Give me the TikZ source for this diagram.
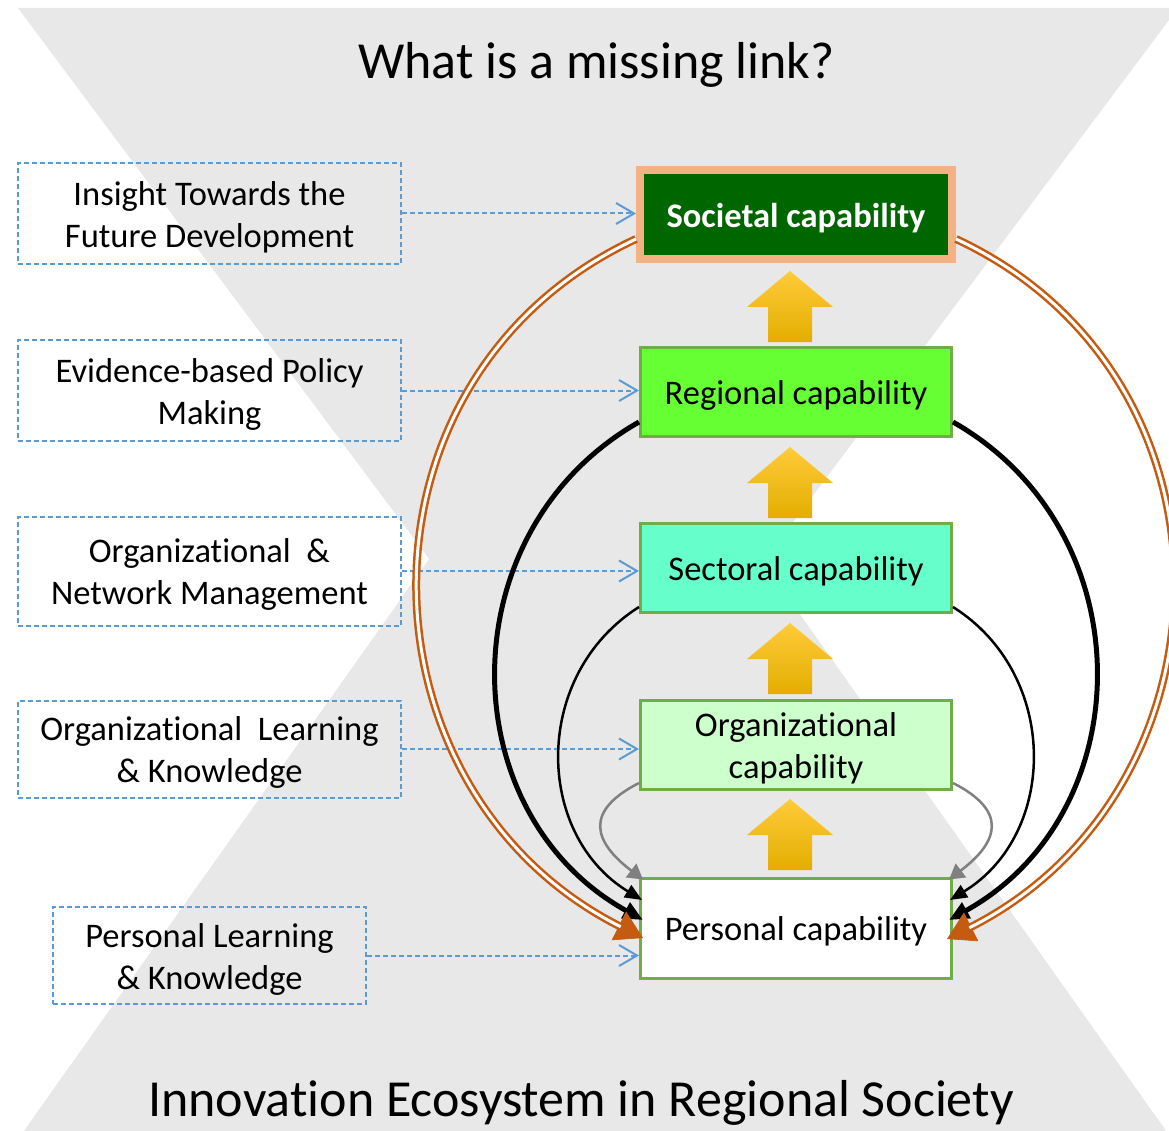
\documentclass[tikz,border=0pt]{standalone}
\usepackage{fontspec}
\setmainfont{Carlito}[Ligatures=CommonOff]
\usetikzlibrary{arrows.meta,calc}
\definecolor{bgray}{HTML}{E8E8E8}
\definecolor{peach}{HTML}{F4B183}
\definecolor{dkgreen}{HTML}{006600}
\definecolor{boxgreen}{HTML}{70AD47}
\definecolor{regfill}{HTML}{66FF33}
\definecolor{secfill}{HTML}{66FFCC}
\definecolor{orgfill}{HTML}{CCFFCC}
\definecolor{dblue}{HTML}{5B9BD5}
\definecolor{oline}{HTML}{C55A11}
\definecolor{connGray}{HTML}{808080}
\definecolor{yTop}{HTML}{FFCB3A}
\definecolor{yMid}{HTML}{FFC000}
\definecolor{yBot}{HTML}{E3AE00}
\newcommand\lowstrut{\rule{0pt}{31.5pt}}
\begin{document}
\begin{tikzpicture}[x=1pt,y=-1pt,
  capbox/.style={draw=boxgreen, line width=3pt, minimum width=311pt, minimum height=89pt, inner sep=0pt, align=center, font=\fontsize{34.5}{42}\selectfont},
  lbox/.style={draw=dblue, line width=2pt, dash pattern=on 5pt off 3pt, inner sep=0pt, align=center, font=\fontsize{34.5}{42}\selectfont},
  dconn/.style={draw=dblue, line width=2pt, dash pattern=on 5pt off 3pt, -{Straight Barb[length=18pt,width=21pt]}},
  yarrow/.style={top color=yTop, middle color=yMid, bottom color=yBot, draw=none},
  ttl/.style={font=\fontsize{52}{60}\selectfont, anchor=base, inner sep=0pt},
  grayconn/.style={draw=connGray, line width=2.5pt, -{Triangle[length=15pt,width=17pt]}},
  thinconn/.style={draw=black, line width=2.5pt, -{Triangle[length=17pt,width=14pt]}},
  thickconn/.style={draw=black, line width=5pt, -{Triangle[length=20pt,width=17pt]}},
  ocore/.style={draw=oline, line width=0.6pt, -{Triangle[length=27pt,width=32pt]}},
  odouble/.style={draw=oline, line width=2.5pt, double=white, double distance=3pt, shorten >=25pt},
]
\useasboundingbox (0,0) rectangle (1169,1131);
\clip (0,0) rectangle (1169,1131);
% background hourglass
\fill[bgray] (18,8) -- (1178,8) -- (597,784) -- cycle;
\fill[bgray] (21,1135) -- (1169,1135) -- (595,325) -- cycle;

% titles
\node[ttl] (t1) at (596.5,79) {What is a missing link?};
\node[ttl] (t2) at (581,1116) {Innovation Ecosystem in Regional Society};

% capability boxes
\node[capbox, draw=peach, line width=8pt, fill=dkgreen, text=white, minimum width=312pt, font=\bfseries\fontsize{34.5}{42}\selectfont] (soc) at (796,214.5) {\lowstrut Societal capability};
\node[capbox, fill=regfill] (reg) at (796,392) {\lowstrut Regional capability};
\node[capbox, fill=secfill] (sec) at (796,568) {\lowstrut Sectoral capability};
\node[capbox, fill=orgfill] (org) at (796,745) {\lowstrut Organizational\\capability};
\node[capbox, fill=white, minimum height=100pt] (pers) at (796,928) {\lowstrut Personal capability};

% left dashed boxes
\node[lbox, minimum width=383pt, minimum height=101pt] (l1) at (209.5,213.5) {\lowstrut Insight Towards the\\Future Development};
\node[lbox, minimum width=383pt, minimum height=101pt] (l2) at (209.5,390.5) {\lowstrut Evidence-based Policy\\Making};
\node[lbox, minimum width=383pt, minimum height=109pt] (l3) at (209.5,571) {\lowstrut Organizational\ \ \&\\Network Management};
\node[lbox, minimum width=383pt, minimum height=97pt] (l4) at (209.5,749) {\lowstrut Organizational\ \ Learning\\\& Knowledge};
\node[lbox, minimum width=313pt, minimum height=97pt] (l5) at (209.5,955.5) {\lowstrut Personal Learning\\\& Knowledge};

% yellow block arrows
\path[yarrow] ($(soc.south)+(-6,8)$) -- ++(43,36) -- ++(-21,0) -- ++(0,35) -- ++(-44,0) -- ++(0,-35) -- ++(-21,0) -- cycle;
\path[yarrow] ($(reg.south)+(-6,9)$) -- ++(43,36) -- ++(-21,0) -- ++(0,35) -- ++(-44,0) -- ++(0,-35) -- ++(-21,0) -- cycle;
\path[yarrow] ($(sec.south)+(-6,9)$) -- ++(43,36) -- ++(-21,0) -- ++(0,35) -- ++(-44,0) -- ++(0,-35) -- ++(-21,0) -- cycle;
\path[yarrow] ($(org.south)+(-6,8)$) -- ++(43,36) -- ++(-21,0) -- ++(0,35) -- ++(-44,0) -- ++(0,-35) -- ++(-21,0) -- cycle;

% dashed connectors
\draw[dconn] (l1.east) -- (l1.east -| soc.west);
\draw[dconn] (l2.east) -- (l2.east -| reg.west);
\draw[dconn] (l3.east) -- (l3.east -| sec.west);
\draw[dconn] (l4.east) -- (l4.east -| org.west);
\draw[dconn] (l5.east) -- (l5.east -| pers.west);

% gray connectors
\draw[grayconn] ([yshift=-38pt]org.west) .. controls +(-55,28) and +(-50,-38) .. ([xshift=4pt,yshift=-3pt]pers.north west);
\draw[grayconn] ([yshift=-38pt]org.east) .. controls +(55,28) and +(50,-38) .. ([xshift=-4pt,yshift=-3pt]pers.north east);
% thin black connectors
\draw[thinconn] ([yshift=-39pt]sec.west) .. controls +(-107,67.5) and +(-108,-66) .. ([xshift=3pt,yshift=28pt]pers.west);
\draw[thinconn] ([yshift=-39pt]sec.east) .. controls +(107,67.5) and +(108,-66) .. ([xshift=-3pt,yshift=28pt]pers.east);
% thick black connectors
\draw[thickconn] ([yshift=-30pt]reg.west) .. controls +(-192,109) and +(-193,-107) .. ([xshift=4pt,yshift=8pt]pers.west);
\draw[thickconn] ([yshift=-30pt]reg.east) .. controls +(192,109) and +(193,-107) .. ([xshift=-4pt,yshift=8pt]pers.east);
% orange double connectors
\draw[ocore] ([yshift=-24.5pt]soc.west) .. controls +(-296,138) and +(-292,-147) .. ([xshift=4pt,yshift=-10pt]pers.west);
\draw[odouble] ([yshift=-24.5pt]soc.west) .. controls +(-296,138) and +(-292,-147) .. ([xshift=4pt,yshift=-10pt]pers.west);
\draw[ocore] ([yshift=-24.5pt]soc.east) .. controls +(296,138) and +(292,-147) .. ([xshift=-6pt,yshift=-11pt]pers.east);
\draw[odouble] ([yshift=-24.5pt]soc.east) .. controls +(296,138) and +(292,-147) .. ([xshift=-6pt,yshift=-11pt]pers.east);
\end{tikzpicture}
\end{document}
